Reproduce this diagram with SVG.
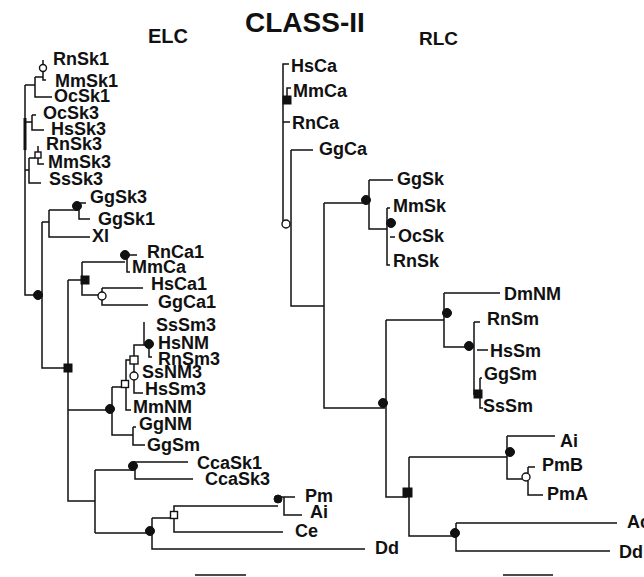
<svg xmlns="http://www.w3.org/2000/svg" width="644" height="577" viewBox="0 0 644 577">
<style>
text{font-family:"Liberation Sans",Arial,sans-serif;font-weight:bold;fill:#111}
.lb{font-size:18px}
.ln{fill:none;stroke:#111;stroke-width:1.5}
.fd{fill:#111;stroke:#111;stroke-width:1}
.op{fill:#fff;stroke:#111;stroke-width:1.4}
</style>
<rect width="644" height="577" fill="#fff"/>
<g id="titles">
<text x="148" y="43" font-size="20">ELC</text>
<text x="245" y="32" font-size="28">CLASS-II</text>
<text x="419" y="45" font-size="19">RLC</text>
</g>
<g id="connectors" class="ln">
<!-- ELC tree -->
<path d="M43,60V64M43,72V80H46M35,77H43M35,77V97H52M25,85H35"/>
<path d="M32,115H36M32,115V130H44M25,122H32"/>
<path d="M38,146V152M38,158V164H44M29,158H35M29,158V183H41M25,170H29"/>
<path d="M25,85V295H38"/>
<path d="M25,118V150" stroke-width="3"/>
<path d="M42,222V368H68M42,222H49M49,210V237H90M49,210H77M77,203H86M79,206V219H90"/>
<path d="M68,280V501H95M68,280H82M82,262V295H102M82,262H125M127,252V272H130M127,255H137"/>
<path d="M102,288H143M102,288V305H148"/>
<path d="M68,410H110M112,387V435H133M112,387H122"/>
<path d="M126,380V360H130M126,388V410H131"/>
<path d="M134,356V345H145M144,322V345M149,348V357H152M134,364V372M134,380V393H143"/>
<path d="M133,427V445H145M133,427H136"/>
<path d="M95,470V533M95,470H133M133,462H188M135,466V479H193"/>
<path d="M95,533H150M152,518V549H365M152,518H171M174,511V506H278M280,497H295M284,497V515H302M174,519V532H283"/>
<!-- RLC tree -->
<path d="M289,64H283V224M283,122H290M287,96V88H291"/>
<path d="M291,150H313M291,150V306H324"/>
<path d="M324,203V408H385M324,203H367M369,180V229H387M369,180H393M387,208V265H390M387,208H390M390,237H395"/>
<path d="M386,320V497H407M386,320H444M444,293V347H470M444,293H500M474,322V395M474,322H480M477,350H488M480,378V408H483M480,378H482"/>
<path d="M409,457V536H455M409,457H507M507,436V479H522M507,436H555M528,467V473M528,467H535M528,481V495H543"/>
<path d="M456,523V551H610M456,523H617"/>
<!-- scale bars -->
<path d="M195,575H246M503,575H553"/>
</g>
<g id="node-markers">
<circle cx="43" cy="68" r="3.5" class="op"/>
<rect x="35" y="152" width="6" height="6" class="op"/>
<circle cx="38" cy="295" r="4.5" class="fd"/>
<circle cx="77" cy="206" r="4.5" class="fd"/>
<rect x="64" y="364" width="8" height="8" class="fd"/>
<rect x="81" y="276" width="8" height="8" class="fd"/>
<circle cx="125" cy="255" r="4.5" class="fd"/>
<circle cx="102" cy="296" r="4" class="op"/>
<circle cx="110" cy="409" r="4.5" class="fd"/>
<rect x="121.5" y="380.5" width="7" height="7" class="op"/>
<rect x="130" y="356" width="8" height="8" class="op"/>
<circle cx="149" cy="344" r="4.5" class="fd"/>
<circle cx="134" cy="376" r="4" class="op"/>
<circle cx="133" cy="466" r="4.5" class="fd"/>
<circle cx="150" cy="531" r="4.5" class="fd"/>
<rect x="170.5" y="511.5" width="7" height="7" class="op"/>
<circle cx="278" cy="499" r="4" class="fd"/>
<rect x="283" y="96" width="8" height="8" class="fd"/>
<circle cx="286" cy="224" r="4" class="op"/>
<circle cx="366" cy="200" r="4.5" class="fd"/>
<circle cx="391" cy="223" r="4.5" class="fd"/>
<circle cx="383" cy="403" r="4.5" class="fd"/>
<circle cx="447" cy="313" r="4.5" class="fd"/>
<circle cx="469" cy="346" r="4.5" class="fd"/>
<rect x="474" y="390" width="8" height="8" class="fd"/>
<rect x="403" y="488" width="9" height="9" class="fd"/>
<circle cx="510" cy="452" r="4.5" class="fd"/>
<circle cx="526" cy="477" r="4" class="op"/>
<circle cx="455" cy="533" r="4.5" class="fd"/>
</g>
<g class="lb">
<g id="RnSk1"><text x="53" y="65">RnSk1</text></g>
<g id="MmSk1"><text x="55" y="87">MmSk1</text></g>
<g id="OcSk1"><text x="54" y="102">OcSk1</text></g>
<g id="OcSk3"><text x="43" y="119">OcSk3</text></g>
<g id="HsSk3"><text x="51" y="135">HsSk3</text></g>
<g id="RnSk3"><text x="46" y="150">RnSk3</text></g>
<g id="MmSk3"><text x="48" y="168">MmSk3</text></g>
<g id="SsSk3"><text x="49" y="185">SsSk3</text></g>
<g id="GgSk3"><text x="90" y="203">GgSk3</text></g>
<g id="GgSk1"><text x="98" y="225">GgSk1</text></g>
<g id="Xl"><text x="92" y="242">Xl</text></g>
<g id="RnCa1"><text x="147" y="258">RnCa1</text></g>
<g id="MmCa-E"><text x="132" y="273">MmCa</text></g>
<g id="HsCa1"><text x="151" y="290">HsCa1</text></g>
<g id="GgCa1"><text x="158" y="308">GgCa1</text></g>
<g id="SsSm3"><text x="156" y="331">SsSm3</text></g>
<g id="HsNM"><text x="158" y="349">HsNM</text></g>
<g id="RnSm3"><text x="158" y="365">RnSm3</text></g>
<g id="SsNM3"><text x="142" y="378">SsNM3</text></g>
<g id="HsSm3"><text x="145" y="395">HsSm3</text></g>
<g id="MmNM"><text x="133" y="413">MmNM</text></g>
<g id="GgNM"><text x="139" y="430">GgNM</text></g>
<g id="GgSm-E"><text x="147" y="451">GgSm</text></g>
<g id="CcaSk1"><text x="197" y="469">CcaSk1</text></g>
<g id="CcaSk3"><text x="205" y="485">CcaSk3</text></g>
<g id="Pm"><text x="305" y="502">Pm</text></g>
<g id="Ai-E"><text x="310" y="518">Ai</text></g>
<g id="Ce"><text x="295" y="537">Ce</text></g>
<g id="Dd-E"><text x="375" y="554">Dd</text></g>
<g id="HsCa"><text x="291" y="72">HsCa</text></g>
<g id="MmCa-R"><text x="293" y="97">MmCa</text></g>
<g id="RnCa"><text x="292" y="129">RnCa</text></g>
<g id="GgCa"><text x="319" y="155">GgCa</text></g>
<g id="GgSk"><text x="397" y="185">GgSk</text></g>
<g id="MmSk"><text x="393" y="212">MmSk</text></g>
<g id="OcSk"><text x="398" y="242">OcSk</text></g>
<g id="RnSk"><text x="393" y="267">RnSk</text></g>
<g id="DmNM"><text x="504" y="300">DmNM</text></g>
<g id="RnSm"><text x="487" y="325">RnSm</text></g>
<g id="HsSm"><text x="490" y="357">HsSm</text></g>
<g id="GgSm-R"><text x="484" y="380">GgSm</text></g>
<g id="SsSm"><text x="483" y="412">SsSm</text></g>
<g id="Ai-R"><text x="560" y="447">Ai</text></g>
<g id="PmB"><text x="542" y="471">PmB</text></g>
<g id="PmA"><text x="547" y="500">PmA</text></g>
<g id="Ac"><text x="627" y="528">Ac</text></g>
<g id="Dd-R"><text x="619" y="558">Dd</text></g>
</g>
</svg>
